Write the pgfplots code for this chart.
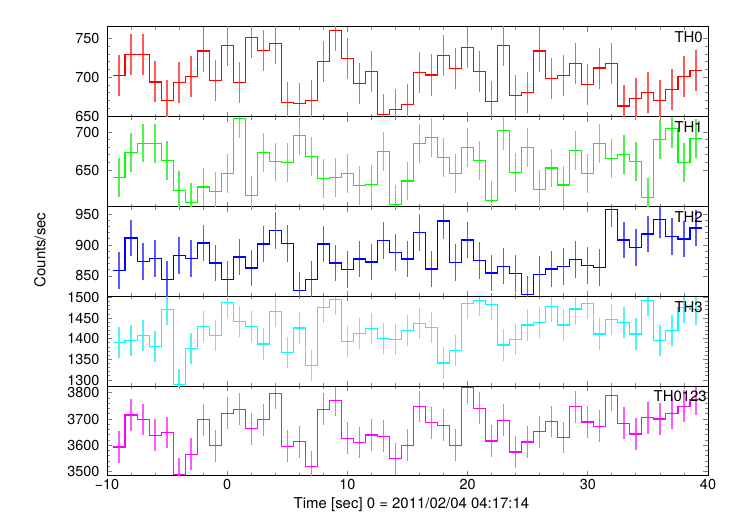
\documentclass[border=0pt]{standalone}
\usepackage{fontspec}
\setmainfont{TeX Gyre Heros}
\usepackage{pgfplots}
\pgfplotsset{compat=1.18}
\usepackage{pgfplotstable}

\definecolor{qred}{RGB}{255,0,0}
\definecolor{qgreen}{RGB}{0,255,0}
\definecolor{qblue}{RGB}{0,0,255}
\definecolor{qcyan}{RGB}{0,255,255}
\definecolor{qmag}{RGB}{255,0,255}
\definecolor{ered}{RGB}{255,90,90}
\definecolor{egreen}{RGB}{80,240,80}
\definecolor{eblue}{RGB}{90,90,255}
\definecolor{ecyan}{RGB}{80,245,245}
\definecolor{emag}{RGB}{255,90,255}

\pgfplotstableread{
t th0 th1 th2 th3 tsum
-9 702 640 859.2 1391.3 3593.5
-8 730 673 911.3 1395.2 3715.2
-7 729 685.5 873.7 1408.2 3698
-6 694 684.6 878.5 1380.6 3638
-5 670 662.4 844.6 1471.2 3649
-4 693 623.7 882.8 1289.6 3489.7
-3 701 607.7 878.5 1376.8 3565.7
-2 734 627.7 903.2 1430 3697
-1 696 622.4 871 1408.2 3598.5
0 741 645 844.6 1487.2 3721.6
1 693 718 880.6 1441.2 3736.8
2 751 616.7 862.9 1430 3663
3 735 672.7 901.6 1387.2 3697
4 744 660.7 923.1 1466.3 3797.5
5 667 659.7 902.7 1367 3596
6 666 695.7 826.3 1426 3613.7
7 670 667.7 844 1335.6 3517.5
8 720 638.8 901.6 1476 3736.8
9 761 639.7 871 1495.4 3771
10 724 645.5 860.2 1393.7 3626.6
11 692 630 877.4 1412 3611
12 708 630.8 872.6 1424.2 3639
13 652 674 907.5 1401 3634
14 659 604.7 888.2 1397.6 3550
15 665 635.7 877.4 1419.4 3600
16 706 684.6 919.9 1436.3 3748
17 703 692.6 861.3 1427.6 3686
18 728 666 938.7 1341.2 3676
19 711 645.5 871.5 1371.9 3600
20 739 679.7 908 1485.7 3819
21 707 662.8 875.3 1492 3740.6
22 669 610.4 854.8 1483.3 3616.3
23 741 702 866 1384.7 3695
24 676 646.4 853.8 1398.5 3574.5
25 680 679.3 819.9 1433.2 3612.5
26 734 625 852.7 1439.7 3651.7
27 698 652.7 861.3 1477.5 3691
28 702 630.4 865.6 1433.2 3630
29 718 675.3 876.9 1471.9 3746.8
30 691 645.5 867.2 1485.7 3688.6
31 712 684.6 864 1411.4 3672
32 718 665 958 1447 3790
33 663 670.8 908 1438.7 3683.6
34 673 661 895.7 1411.4 3643
35 680 614.4 917.7 1492 3705
36 670 690.4 941.4 1396 3700
37 684 704.6 913.4 1419.4 3721.6
38 701 659.7 909.7 1475 3749.4
39 709 691.3 927.4 1470 3776
40 709 691.3 927.4 1470 3776
}\lcdata

\pgfplotsset{
  panel/.style={
    scale only axis, width=601bp, height=89.8bp,
    xmin=-10, xmax=40,
    xtick={-10,0,...,40}, minor x tick num=4,
    tick align=inside,
    xticklabels={},
    major tick length=5bp, minor tick length=3bp,
    axis line style={line width=1bp},
    major tick style={line width=0.8bp},
    minor tick style={line width=0.8bp},
    tick label style={font=\fontsize{14.5}{17}\selectfont},
    yticklabel style={xshift=-4bp},
    /pgf/number format/assume math mode=true,
    /pgf/number format/1000 sep={},
  },
  steps/.style={const plot mark left, line width=1.1bp, mark=none},
  errs/.style 2 args={draw=none, mark=none,
    restrict x to domain=-9.5:39.5,
    error bars/.cd, y dir=both, y fixed=#1, error mark=none,
    error bar style={line width=1.3bp, draw=#2}},
}

\begin{document}
\begin{tikzpicture}
\fill[white] (-107bp,-40bp) rectangle (623bp,476bp);
\useasboundingbox (-107bp,-40bp) rectangle (623bp,476bp);

% TH0123 (bottom)
\begin{axis}[panel, at={(0bp,0bp)}, anchor=south west,
  ymin=3483, ymax=3825, ytick={3500,3600,3700,3800}, minor y tick num=4,
  xticklabels={−10,0,10,20,30,40}]
\addplot[errs={60.5}{emag}] table[x=t, y=tsum] {\lcdata};
\addplot[steps, draw=qmag] table[x expr=\thisrow{t}-0.5, y=tsum] {\lcdata};
\node[anchor=north east, inner sep=0, font=\fontsize{15}{18}\selectfont, xshift=-1bp, yshift=-4.7bp] at (rel axis cs:1,1) {TH0123};
\end{axis}

% TH3
\begin{axis}[panel, at={(0bp,89.8bp)}, anchor=south west,
  ymin=1285, ymax=1502.5, ytick={1300,1350,1400,1450,1500}, minor y tick num=4]
\addplot[errs={37.7}{ecyan}] table[x=t, y=th3] {\lcdata};
\addplot[steps, draw=qcyan] table[x expr=\thisrow{t}-0.5, y=th3] {\lcdata};
\node[anchor=north east, inner sep=0, font=\fontsize{15}{18}\selectfont, xshift=-5bp, yshift=-4.7bp] at (rel axis cs:1,1) {TH3};
\end{axis}

% TH2
\begin{axis}[panel, at={(0bp,179.6bp)}, anchor=south west,
  ymin=817, ymax=962, ytick={850,900,950}, minor y tick num=4]
\addplot[errs={29.5}{eblue}] table[x=t, y=th2] {\lcdata};
\addplot[steps, draw=qblue] table[x expr=\thisrow{t}-0.5, y=th2] {\lcdata};
\node[anchor=north east, inner sep=0, font=\fontsize{15}{18}\selectfont, xshift=-5bp, yshift=-4.7bp] at (rel axis cs:1,1) {TH2};
\end{axis}

% TH1
\begin{axis}[panel, at={(0bp,269.4bp)}, anchor=south west,
  ymin=602, ymax=720, ytick={650,700}, minor y tick num=4]
\addplot[errs={25.5}{egreen}] table[x=t, y=th1] {\lcdata};
\addplot[steps, draw=qgreen] table[x expr=\thisrow{t}-0.5, y=th1] {\lcdata};
\node[anchor=north east, inner sep=0, font=\fontsize{15}{18}\selectfont, xshift=-5bp, yshift=-4.7bp] at (rel axis cs:1,1) {TH1};
\end{axis}

% TH0 (top)
\begin{axis}[panel, at={(0bp,359.2bp)}, anchor=south west,
  ymin=649, ymax=765, ytick={650,700,750}, minor y tick num=4]
\addplot[errs={26.5}{ered}] table[x=t, y=th0] {\lcdata};
\addplot[steps, draw=qred] table[x expr=\thisrow{t}-0.5, y=th0] {\lcdata};
\node[anchor=north east, inner sep=0, font=\fontsize{15}{18}\selectfont, xshift=-5bp, yshift=-4.7bp] at (rel axis cs:1,1) {TH0};
\node[anchor=base west, inner sep=0, font=\fontsize{11.5}{14}\selectfont, xshift=1bp, yshift=10bp] at (rel axis cs:0,1) {ae805048010\_20110204041714\_wam1\_trn\_4band\_short.qdp};
\end{axis}

\node[rotate=90, font=\fontsize{15}{18}\selectfont] at (-67bp,226bp) {Counts/sec};
\node[font=\fontsize{15}{18}\selectfont] at (304.5bp,-29bp) {Time [sec] 0 = 2011/02/04 04:17:14};
\end{tikzpicture}
\end{document}
